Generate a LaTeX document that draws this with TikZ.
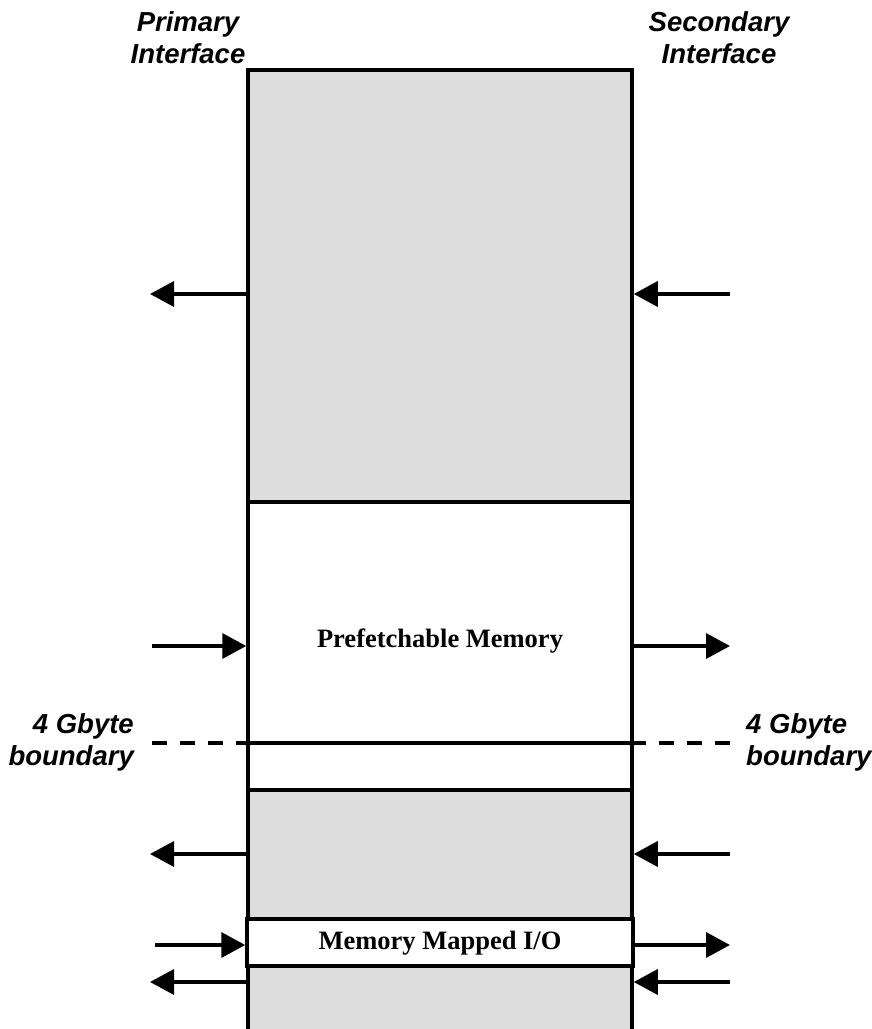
\documentclass[tikz,border=0pt]{standalone}
\usepackage{fontspec}
\setmainfont{Liberation Serif}
\setsansfont{Liberation Sans}
\usetikzlibrary{arrows.meta}
\definecolor{regiongray}{RGB}{221,221,221}
\tikzset{
  region/.style={draw=black, line width=3.5pt, minimum width=384pt, inner sep=0pt, anchor=center},
  grayregion/.style={region, fill=regiongray},
  whiteregion/.style={region, fill=white},
  arr/.style={line width=3.5pt, -{Triangle[length=24pt,width=25pt]}},
  sidelabel/.style={font=\sffamily\bfseries\itshape\fontsize{27.5}{32}\selectfont, inner sep=0pt},
  boxtext/.style={font=\rmfamily\bfseries\fontsize{26.5}{30}\selectfont},
  boundline/.style={line width=3.5pt},
  dashline/.style={line width=3.5pt, dash pattern=on 15pt off 13pt}
}
\begin{document}
\begin{tikzpicture}[x=1pt,y=-1pt]
\useasboundingbox (0,0) rectangle (871,1029);
\clip (0,0) rectangle (871,1029);
% regions
\node[grayregion, minimum height=432pt] (topgray) at (440,286) {};
\node[whiteregion, minimum height=288pt] (prefetch) at (440,646) {};
\node[boxtext] (prefetchtext) at (440,641) {Prefetchable Memory};
\node[grayregion, minimum height=129pt] (midgray) at (440,854.5) {};
\node[grayregion, minimum height=74pt] (botgray) at (440,1003) {};
\node[whiteregion, minimum width=386pt, minimum height=47pt] (mmio) at (440,942.5) {};
\node[boxtext] (mmiotext) at (440,943) {Memory Mapped I/O};
% 4 Gbyte boundary
\coordinate (bL) at (152,743);
\coordinate (bR) at (730,743);
\draw[boundline] (prefetch.west |- bL) -- (prefetch.east |- bR);
\draw[dashline] (bL) -- (prefetch.west |- bL);
\draw[dashline] (bR) -- (prefetch.east |- bR);
% labels
\node[sidelabel, align=center] (prim) at (188,38) {Primary\\Interface};
\node[sidelabel, align=center] (sec) at (719,38) {Secondary\\Interface};
\node[sidelabel, align=right, anchor=east] (gbL) at (134,742) {4 Gbyte\\boundary};
\node[sidelabel, align=left, anchor=west] (gbR) at (746,742) {4 Gbyte\\boundary};
% free ends of arrows
\coordinate (a1L) at (150,294);  \coordinate (a1R) at (730,294);
\coordinate (a2L) at (152,646);  \coordinate (a2R) at (730,646);
\coordinate (a3L) at (150,854);  \coordinate (a3R) at (730,854);
\coordinate (a4L) at (155,945);  \coordinate (a4R) at (730,945);
\coordinate (a5L) at (150,982);  \coordinate (a5R) at (730,982);
% arrows
\draw[arr] (topgray.west |- a1L) -- (a1L);
\draw[arr] (a1R) -- (topgray.east |- a1R);
\draw[arr] (a2L) -- (prefetch.west |- a2L);
\draw[arr] (prefetch.east |- a2R) -- (a2R);
\draw[arr] (midgray.west |- a3L) -- (a3L);
\draw[arr] (a3R) -- (midgray.east |- a3R);
\draw[arr] (a4L) -- (mmio.west |- a4L);
\draw[arr] (mmio.east |- a4R) -- (a4R);
\draw[arr] (botgray.west |- a5L) -- (a5L);
\draw[arr] (a5R) -- (botgray.east |- a5R);
\end{tikzpicture}
\end{document}
